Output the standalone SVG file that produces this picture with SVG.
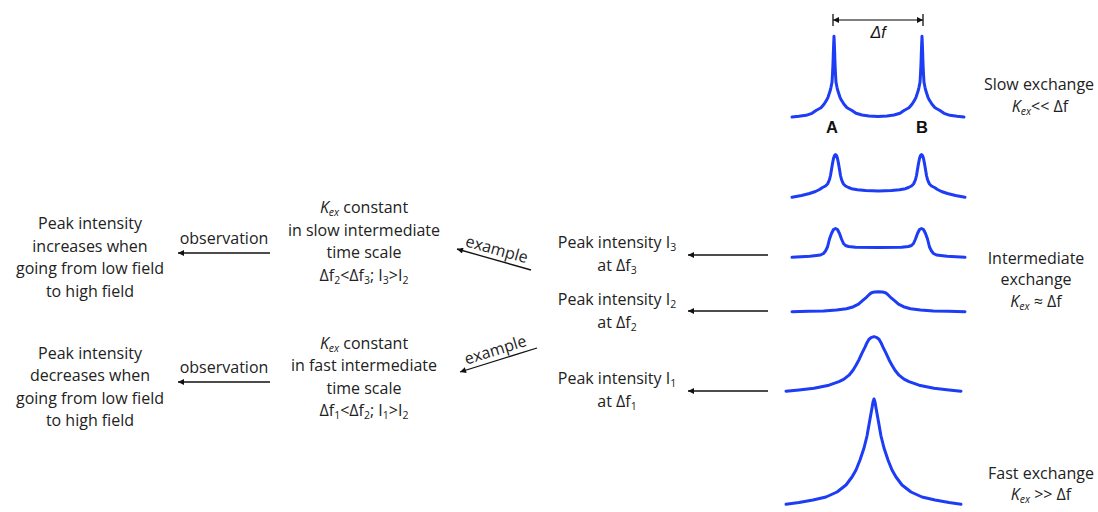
<svg xmlns="http://www.w3.org/2000/svg" width="1098" height="512" viewBox="0 0 1098 512">
<style>
.t{font-family:"Open Sans","Liberation Sans",sans-serif;font-size:16px;fill:#222;text-anchor:middle}
.s{font-size:10.5px}
.i{font-style:italic}
.sp{fill:none;stroke:#1c3cf5;stroke-width:3;stroke-linejoin:round;stroke-linecap:round}
.c{fill:none;stroke:#111;stroke-width:1.3}
.ab{font-family:"Liberation Sans",Arial,sans-serif;font-weight:bold;font-size:16.5px;fill:#111;text-anchor:middle}
</style>
<defs>
<marker id="ah" viewBox="0 0 10 10" refX="10" refY="5" markerWidth="7" markerHeight="6" markerUnits="userSpaceOnUse" orient="auto-start-reverse">
<path d="M0,0 L10,5 L0,10 z" fill="#111"/>
</marker>
</defs>
<rect width="1098" height="512" fill="#fff"/>

<g id="connectors">
<line class="c" x1="270" y1="253" x2="178" y2="253" marker-end="url(#ah)"/>
<line class="c" x1="270" y1="382" x2="178" y2="382" marker-end="url(#ah)"/>
<line class="c" x1="531" y1="270" x2="457" y2="249" marker-end="url(#ah)"/>
<line class="c" x1="537" y1="348" x2="460" y2="372" marker-end="url(#ah)"/>
<line class="c" x1="768" y1="255" x2="688" y2="255" marker-end="url(#ah)"/>
<line class="c" x1="768" y1="311" x2="688" y2="311" marker-end="url(#ah)"/>
<line class="c" x1="768" y1="391" x2="688" y2="391" marker-end="url(#ah)"/>
<text class="t" x="224" y="244">observation</text>
<text class="t" x="224" y="373">observation</text>
<text class="t" transform="translate(495.3,254.7) rotate(15.6)">example</text>
<text class="t" transform="translate(497,355.2) rotate(-17.3)">example</text>
</g>

<g id="obs-increase">
<text class="t" x="90" y="229">Peak intensity</text>
<text class="t" x="90" y="251.5">increases when</text>
<text class="t" x="90" y="274">going from low field</text>
<text class="t" x="90" y="296.5">to high field</text>
</g>
<g id="obs-decrease">
<text class="t" x="90" y="358.5">Peak intensity</text>
<text class="t" x="90" y="381">decreases when</text>
<text class="t" x="90" y="403.5">going from low field</text>
<text class="t" x="90" y="426">to high field</text>
</g>

<g id="slow-intermediate">
<text class="t" x="364" y="213"><tspan class="i">K</tspan><tspan class="s i" dy="3">ex</tspan><tspan dy="-3"> constant</tspan></text>
<text class="t" x="364" y="235.5">in slow intermediate</text>
<text class="t" x="364" y="258">time scale</text>
<text class="t" x="364" y="280.5">Δf<tspan class="s" dy="3">2</tspan><tspan dy="-3">&lt;Δf</tspan><tspan class="s" dy="3">3</tspan><tspan dy="-3">; I</tspan><tspan class="s" dy="3">3</tspan><tspan dy="-3">&gt;I</tspan><tspan class="s" dy="3">2</tspan></text>
</g>
<g id="fast-intermediate">
<text class="t" x="364" y="348.5"><tspan class="i">K</tspan><tspan class="s i" dy="3">ex</tspan><tspan dy="-3"> constant</tspan></text>
<text class="t" x="364" y="371">in fast intermediate</text>
<text class="t" x="364" y="393.5">time scale</text>
<text class="t" x="364" y="416">Δf<tspan class="s" dy="3">1</tspan><tspan dy="-3">&lt;Δf</tspan><tspan class="s" dy="3">2</tspan><tspan dy="-3">; I</tspan><tspan class="s" dy="3">1</tspan><tspan dy="-3">&gt;I</tspan><tspan class="s" dy="3">2</tspan></text>
</g>

<g id="peak-i3">
<text class="t" x="617" y="247.5">Peak intensity I<tspan class="s" dy="3">3</tspan></text>
<text class="t" x="617" y="270.5">at Δf<tspan class="s" dy="3">3</tspan></text>
</g>
<g id="peak-i2">
<text class="t" x="617" y="304.5">Peak intensity I<tspan class="s" dy="3">2</tspan></text>
<text class="t" x="617" y="328">at Δf<tspan class="s" dy="3">2</tspan></text>
</g>
<g id="peak-i1">
<text class="t" x="617" y="383.5">Peak intensity I<tspan class="s" dy="3">1</tspan></text>
<text class="t" x="617" y="407">at Δf<tspan class="s" dy="3">1</tspan></text>
</g>

<g id="spectrum-slow">
<line x1="833" y1="20" x2="923" y2="20" stroke="#555" stroke-width="1.3" marker-start="url(#ah)" marker-end="url(#ah)"/>
<line x1="833" y1="14" x2="833" y2="26" stroke="#111" stroke-width="1.3"/>
<line x1="923" y1="14" x2="923" y2="26" stroke="#111" stroke-width="1.3"/>
<text x="878" y="38" font-family="Liberation Sans,Arial,sans-serif" font-size="16" font-style="italic" fill="#111" text-anchor="middle">Δf</text>
<polyline class="sp" points="792,117.1 799,116.3 806,115.3 812,113.3 816,110.5 821,107.8 824,104.3 826.5,100.3 828,97.3 829,94.3 830,91.3 831,87.3 832,82.3 832.5,74.3 833,63.3 833.5,48.3 834,36.3 834.5,48.3 835,63.3 835.5,74.3 836,82.3 837,87.3 838,91.3 839,94.3 840,97.3 841.5,100.3 844,104.3 847,107.8 852,110.5 856,113.3 862,115 869,116 878,116.5 887,116 894,115 900,113.3 904,110.5 909,107.8 912,104.3 914.5,100.3 916,97.3 917,94.3 918,91.3 919,87.3 920,82.3 920.5,74.3 921,63.3 921.5,48.3 922,36.3 922.5,48.3 923,63.3 923.5,74.3 924,82.3 925,87.3 926,91.3 927,94.3 928,97.3 929.5,100.3 932,104.3 935,107.8 940,110.5 944,113.3 950,115.3 957,116.3 964,117.1"/>
<text class="ab" x="832" y="132.5">A</text>
<text class="ab" x="922" y="132.5">B</text>
</g>
<g id="spectrum-2">
<polyline class="sp" points="792,197.2 801.5,195.5 809.5,193.5 815.5,191.5 819.5,189.5 822.5,187.5 825.5,186 827.5,184 828.5,182 829.5,179.5 830.5,175.5 831.5,169.5 832.5,163.5 833.5,158.5 834.5,155.5 835.5,154.5 836.5,155.5 837.5,158.5 838.5,163.5 839.5,169.5 840.5,175.5 841.5,179.5 842.5,182 843.5,184 845.5,186 848.5,187.5 851.5,188.7 857.5,189.7 865.5,190.5 878.5,190.9 891.5,190.5 899.5,189.7 905.5,188.7 908.5,187.5 911.5,186 913.5,184 914.5,182 915.5,179.5 916.5,175.5 917.5,169.5 918.5,163.5 919.5,158.5 920.5,155.5 921.5,154.5 922.5,155.5 923.5,158.5 924.5,163.5 925.5,169.5 926.5,175.5 927.5,179.5 928.5,182 929.5,184 931.5,186 934.5,187.5 937.5,189.5 941.5,191.5 947.5,193.5 955.5,195.5 965,197.2"/>
</g>
<g id="spectrum-3">
<polyline class="sp" points="792,257.3 810,256.3 820.5,255 823.5,253.5 825.5,251 827.5,247 829.5,239 831.5,233.5 833.5,229.5 835.5,228.5 837.5,229.5 839.5,233.5 841.5,239 843.5,243.5 845.5,245.5 848.5,246.5 855.5,247.2 878.5,247.5 901.5,247.2 908.5,246.5 911.5,245.5 913.5,243.5 915.5,239 917.5,233.5 919.5,229.5 921.5,228.5 923.5,229.5 925.5,233.5 927.5,239 929.5,247 931.5,251 933.5,253.5 936.5,255 947,256.3 965,257.3"/>
</g>
<g id="spectrum-4">
<polyline class="sp" points="792,311.7 808.5,311.3 823.5,310.9 836.5,310 846.5,308.7 853.5,306.7 858.5,304.2 862.5,300.7 865.5,298.2 867.5,296.2 869.5,294.2 871.5,292.7 874.5,292 878.5,291.7 882.5,292 885.5,292.7 887.5,294.2 889.5,296.2 891.5,298.2 894.5,300.7 898.5,304.2 903.5,306.7 910.5,308.7 920.5,310 933.5,310.9 948.5,311.3 965,311.7"/>
</g>
<g id="spectrum-5">
<polyline class="sp" points="786,391.2 799,389.9 814,388.2 829,385.2 839,381.7 844,379.2 849,375.2 853,370.2 856,365.2 859,359.7 862,353.2 865,347.2 867,342.7 869,339.2 871,337.7 874,336.7 877,337.7 879,339.2 881,342.7 883,347.2 886,353.2 889,359.7 892,365.2 895,370.2 899,375.2 904,379.2 909,381.7 919,385.2 934,388.2 949,389.9 961,391.2"/>
</g>
<g id="spectrum-fast">
<polyline class="sp" points="786,504.2 799,502.5 813,500 826,497 837,492 846,485 852,477 856,470 860,460 864,448 867,436 870,419 872,408 873,402 874,399 875,402 876,408 878,419 881,436 884,448 888,460 892,470 896,477 902,485 911,492 922,497 935,500 949,502.5 961,504.2"/>
</g>

<g id="label-slow">
<text class="t" x="1039" y="90">Slow exchange</text>
<text class="t" x="1040" y="112"><tspan class="i">K</tspan><tspan class="s i" dy="3">ex</tspan><tspan dy="-3">&lt;&lt; Δf</tspan></text>
</g>
<g id="label-intermediate">
<text class="t" x="1036" y="263.5">Intermediate</text>
<text class="t" x="1036" y="285">exchange</text>
<text class="t" x="1036" y="307"><tspan class="i">K</tspan><tspan class="s i" dy="3">ex</tspan><tspan dy="-3"> ≈ Δf</tspan></text>
</g>
<g id="label-fast">
<text class="t" x="1041" y="478.5">Fast exchange</text>
<text class="t" x="1041" y="500"><tspan class="i">K</tspan><tspan class="s i" dy="3">ex</tspan><tspan dy="-3"> &gt;&gt; Δf</tspan></text>
</g>
</svg>
